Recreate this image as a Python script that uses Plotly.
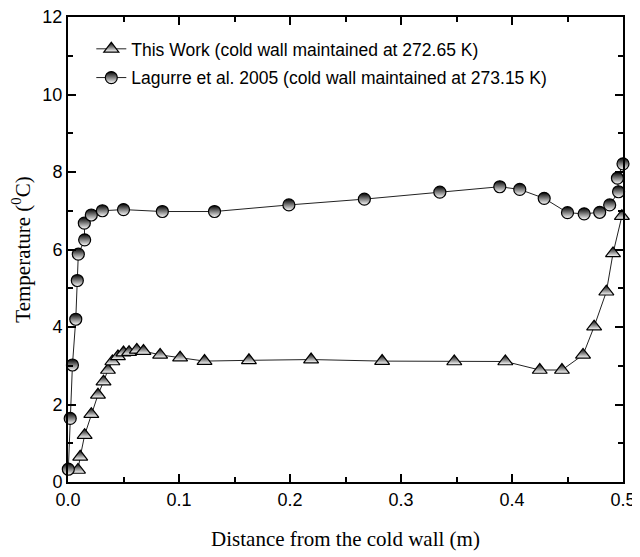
import plotly.graph_objects as go

# This Work (cold wall maintained at 272.65 K)
work_x = [0.009, 0.011, 0.015, 0.021, 0.027, 0.032, 0.036, 0.040, 0.045, 0.050,
          0.055, 0.062, 0.068, 0.083, 0.101, 0.123, 0.163, 0.219, 0.283, 0.348,
          0.394, 0.425, 0.445, 0.464, 0.474, 0.485, 0.491, 0.499]
work_y = [0.31, 0.65, 1.21, 1.75, 2.25, 2.59, 2.89, 3.11, 3.24, 3.34,
          3.35, 3.41, 3.38, 3.28, 3.21, 3.12, 3.14, 3.16, 3.12, 3.11,
          3.11, 2.89, 2.89, 3.28, 4.01, 4.91, 5.90, 6.86]

# Lagurre et al. 2005 (cold wall maintained at 273.15 K)
lag_x = [0.0003, 0.002, 0.004, 0.007, 0.0084, 0.0093, 0.015, 0.0147, 0.021, 0.031,
         0.050, 0.085, 0.132, 0.199, 0.267, 0.335, 0.389, 0.407, 0.429, 0.450,
         0.465, 0.479, 0.488, 0.496, 0.495, 0.500]
lag_y = [0.33, 1.64, 3.02, 4.20, 5.20, 5.88, 6.25, 6.68, 6.89, 7.00,
         7.03, 6.98, 6.98, 7.15, 7.30, 7.48, 7.62, 7.55, 7.32, 6.95,
         6.92, 6.96, 7.15, 7.49, 7.84, 8.21]

x_ticks = [0.0, 0.1, 0.2, 0.3, 0.4, 0.5]
y_ticks = [0, 2, 4, 6, 8, 10, 12]

fig = go.Figure()
fig.add_trace(go.Scatter(
    x=work_x, y=work_y, mode='lines+markers',
    name='This Work (cold wall maintained at 272.65 K)', legendgroup='work',
    line=dict(color='#222222', width=1),
    marker=dict(symbol='triangle-up', size=13, color='black',
                gradient=dict(type='vertical', color='white'),
                line=dict(color='black', width=1.2)),
    cliponaxis=False))
fig.add_trace(go.Scatter(
    x=lag_x, y=lag_y, mode='lines+markers',
    name='Lagurre et al. 2005 (cold wall maintained at 273.15 K)', legendgroup='lag',
    line=dict(color='#222222', width=1),
    marker=dict(symbol='circle', size=12, color='black',
                gradient=dict(type='vertical', color='white'),
                line=dict(color='black', width=1.2)),
    cliponaxis=False))

axis_common = dict(showline=True, linecolor='black', linewidth=2, mirror='ticks',
                   ticks='inside', ticklen=8, tickwidth=2, tickcolor='black',
                   showgrid=False, zeroline=False, automargin=False,
                   ticklabeloverflow='allow',
                   tickfont=dict(family='Liberation Sans, Arial', size=18, color='black'))

fig.update_xaxes(range=[0, 0.5], tickvals=x_ticks, tickformat='.1f',
                 minor=dict(dtick=0.05, ticks='inside', ticklen=5, tickwidth=2, tickcolor='black'),
                 title=dict(text='Distance from the cold wall (m)', standoff=23,
                            font=dict(family='Liberation Serif, Times New Roman', size=21, color='black')),
                 **axis_common)
fig.update_yaxes(range=[0, 12], tickvals=y_ticks,
                 minor=dict(dtick=1, ticks='inside', ticklen=5, tickwidth=2, tickcolor='black'),
                 title=dict(text='Temperature (<sup>0</sup>C)', standoff=9,
                            font=dict(family='Liberation Serif, Times New Roman', size=21, color='black')),
                 **axis_common)

# page body adds an 8px offset, so the figure is sized to fit the window
fig.update_layout(
    width=632, height=549,
    margin=dict(l=60, r=17, t=9, b=75),
    plot_bgcolor='white', paper_bgcolor='white',
    showlegend=True,
    legend=dict(x=0.042, y=0.97, xanchor='left', yanchor='top',
                bgcolor='rgba(0,0,0,0)', borderwidth=0,
                font=dict(family='Liberation Sans, Arial', size=17.5, color='black'),
                itemwidth=30, traceorder='grouped', tracegroupgap=3))

fig.write_html("out.html")
